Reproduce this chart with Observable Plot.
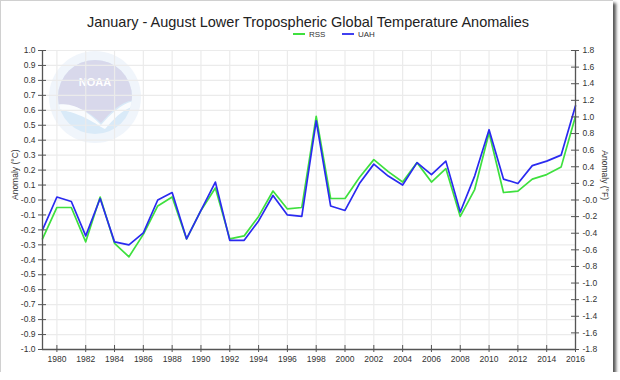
<!DOCTYPE html>
<html><head><meta charset="utf-8">
<script src="https://cdn.jsdelivr.net/npm/d3@7"></script>
<script src="https://cdn.jsdelivr.net/npm/@observablehq/plot@0.6"></script>
<style>
html,body{margin:0;padding:0;background:#fff;}
#frame{position:relative;width:613px;height:372px;background:#fff;border-left:1px solid #d0d0d0;border-top:1px solid #d0d0d0;box-shadow:3px 3px 3px #555;box-sizing:border-box;font-family:"Liberation Sans",Arial,sans-serif;overflow:hidden;}
#title{position:absolute;left:0;top:14px;width:614px;text-align:center;font-size:14.5px;line-height:14px;color:#222;}
.sw{position:absolute;height:2px;width:12px;top:31.5px;}
.lt{position:absolute;font-size:8px;line-height:8px;top:29.5px;color:#333;}
#logo{position:absolute;left:0;top:0;}
#chart{position:absolute;left:0;top:39px;}
</style></head>
<body>
<div id="frame">
<svg id="logo" width="200" height="160">
  <defs><clipPath id="inner"><circle cx="94" cy="96" r="37"/></clipPath></defs>
  <circle cx="94" cy="96" r="46" fill="#f0f5fb"/>
  <g clip-path="url(#inner)">
    <rect x="50" y="50" width="90" height="95" fill="#d9eaf8"/>
    <path d="M50,50 H140 V100 C125,96 112,108 100,122 C90,112 72,100 50,104 Z" fill="#d8d8eb"/>
    <path d="M56,104 C74,100 90,114 100,124 C112,110 126,98 140,100 L140,104 C126,104 114,116 104,128 C96,124 82,112 56,108 Z" fill="#fff" opacity="0.85"/>
  </g>
  <text x="94" y="85" text-anchor="middle" font-size="11" font-weight="bold" fill="#fff" font-family="Liberation Sans, Arial">NOAA</text>
</svg>
<div id="title">January - August Lower Tropospheric Global Temperature Anomalies</div>
<div class="sw" style="left:292px;background:#3ee03e"></div>
<div class="lt" style="left:308px">RSS</div>
<div class="sw" style="left:341px;background:#4040f0"></div>
<div class="lt" style="left:357px">UAH</div>
<div id="chart"></div>
</div>
<script>
const years = [1979,1980,1981,1982,1983,1984,1985,1986,1987,1988,1989,1990,1991,1992,1993,1994,1995,1996,1997,1998,1999,2000,2001,2002,2003,2004,2005,2006,2007,2008,2009,2010,2011,2012,2013,2014,2015,2016];
const rss = [-0.26,-0.05,-0.05,-0.28,0.02,-0.29,-0.38,-0.23,-0.04,0.02,-0.26,-0.07,0.08,-0.26,-0.24,-0.11,0.06,-0.06,-0.05,0.56,0.01,0.01,0.15,0.27,0.19,0.12,0.25,0.12,0.21,-0.11,0.07,0.45,0.05,0.06,0.14,0.17,0.22,0.56];
const uah = [-0.20,0.02,-0.01,-0.24,0.01,-0.28,-0.30,-0.22,0.00,0.05,-0.26,-0.07,0.12,-0.27,-0.27,-0.14,0.03,-0.10,-0.11,0.53,-0.04,-0.07,0.11,0.24,0.16,0.10,0.25,0.17,0.26,-0.08,0.16,0.47,0.14,0.11,0.23,0.26,0.30,0.63];
const xTicks = [1980,1982,1984,1986,1988,1990,1992,1994,1996,1998,2000,2002,2004,2006,2008,2010,2012,2014,2016];
const cTicks = [1.0,0.9,0.8,0.7,0.6,0.5,0.4,0.3,0.2,0.1,0,-0.1,-0.2,-0.3,-0.4,-0.5,-0.6,-0.7,-0.8,-0.9,-1.0];
const cLabels = ["1.0","0.9","0.8","0.7","0.6","0.5","0.4","0.3","0.2","0.1","-0.0","-0.1","-0.2","-0.3","-0.4","-0.5","-0.6","-0.7","-0.8","-0.9","-1.0"];
const fTicks = [1.8,1.6,1.4,1.2,1.0,0.8,0.6,0.4,0.2,0,-0.2,-0.4,-0.6,-0.8,-1.0,-1.2,-1.4,-1.6,-1.8];
const fLabels = ["1.8","1.6","1.4","1.2","1.0","0.8","0.6","0.4","0.2","-0.0","-0.2","-0.4","-0.6","-0.8","-1.0","-1.2","-1.4","-1.6","-1.8"];
const seriesNames = ["RSS","UAH"];
const seriesColors = ["#3ee03e","#2a2af0"];

const fPos = fTicks.map(f => f / 1.8);
const cFmt = d => cLabels[cTicks.findIndex(t => Math.abs(t - d) < 1e-9)];
const fFmt = d => fLabels[fPos.findIndex(t => Math.abs(t - d) < 1e-9)];
const rows = [];
years.forEach((y, i) => {
  rows.push({year: y, value: rss[i], series: seriesNames[0]});
});
years.forEach((y, i) => {
  rows.push({year: y, value: uah[i], series: seriesNames[1]});
});
const axisColor = "#555";
const chart = Plot.plot({
  width: 612, height: 332,
  marginTop: 10, marginBottom: 23, marginLeft: 41, marginRight: 38,
  style: {background: "transparent", fontFamily: "Liberation Sans, Arial, sans-serif", fontSize: "8.5px", color: "#333"},
  x: {domain: [1979, 2016]},
  y: {domain: [-1, 1]},
  color: {domain: seriesNames, range: seriesColors},
  marks: [
    Plot.gridX(xTicks, {stroke: "#ebebeb", strokeOpacity: 1, strokeWidth: 1.2}),
    Plot.gridY(cTicks, {stroke: "#ebebeb", strokeOpacity: 1, strokeWidth: 1.2}),
    Plot.lineY(rows, {x: "year", y: "value", stroke: "series", z: "series", strokeWidth: 1.7}),
    Plot.ruleX([1979, 2016], {stroke: axisColor, strokeWidth: 1.3}),
    Plot.ruleY([-1], {stroke: axisColor, strokeWidth: 1.3}),
    Plot.ruleY(cTicks, {x1: 1979, x2: 1979, insetLeft: -4, insetRight: -4, stroke: axisColor}),
    Plot.ruleY(fPos, {x1: 2016, x2: 2016, insetLeft: -4, insetRight: -4, stroke: axisColor}),
    Plot.ruleX(xTicks, {y1: -1, y2: -1, insetTop: -4, insetBottom: -3, stroke: axisColor}),
    Plot.axisY(cTicks, {anchor: "left", tickSize: 0, tickPadding: 7, tickFormat: cFmt, label: null}),
    Plot.axisY(fPos, {anchor: "right", tickSize: 0, tickPadding: 7, tickFormat: fFmt, label: null}),
    Plot.axisX(xTicks, {tickSize: 0, tickPadding: 6, tickFormat: d => String(d), label: null}),
    Plot.text(["Anomaly (°C)"], {frameAnchor: "left", dx: -27, rotate: -90, fill: "#333"}),
    Plot.text(["Anomaly (°F)"], {frameAnchor: "right", dx: 29, rotate: 90, fill: "#333"})
  ]
});
document.getElementById("chart").appendChild(chart);
</script>
</body></html>
